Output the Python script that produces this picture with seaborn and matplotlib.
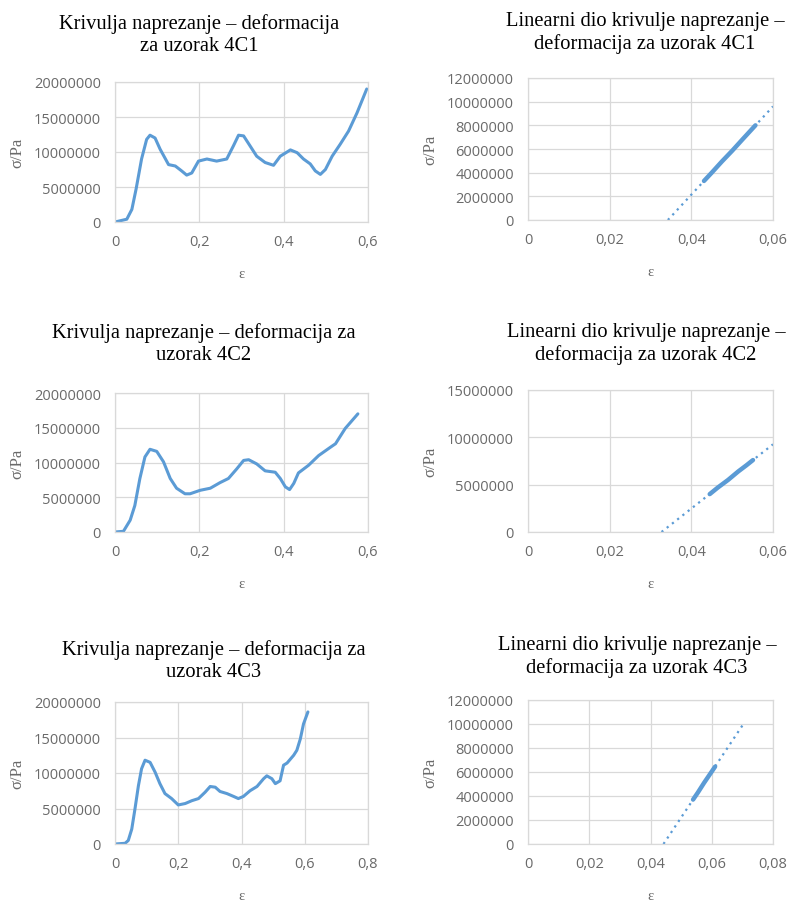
import numpy as np
import pandas as pd
import matplotlib
matplotlib.use("Agg")
import matplotlib.pyplot as plt
import seaborn as sns

# ---------------- data ----------------
eps_4C1 = [0.0, 0.028, 0.040, 0.050, 0.063, 0.075, 0.083, 0.095, 0.107, 0.127, 0.143,
           0.158, 0.170, 0.182, 0.198, 0.218, 0.241, 0.265, 0.281, 0.293, 0.305, 0.320,
           0.336, 0.356, 0.376, 0.392, 0.416, 0.432, 0.447, 0.463, 0.475, 0.487, 0.499,
           0.515, 0.534, 0.554, 0.574, 0.597]
sig_4C1 = [0.0, 0.4e6, 1.8e6, 4.7e6, 9.0e6, 11.8e6, 12.4e6, 12.0e6, 10.4e6, 8.2e6, 8.0e6,
           7.3e6, 6.7e6, 7.0e6, 8.7e6, 9.0e6, 8.7e6, 9.0e6, 10.9e6, 12.4e6, 12.3e6, 10.9e6,
           9.4e6, 8.5e6, 8.1e6, 9.4e6, 10.3e6, 9.9e6, 9.0e6, 8.3e6, 7.3e6, 6.8e6, 7.5e6,
           9.4e6, 11.1e6, 13.0e6, 15.6e6, 19.0e6]

eps_4C2 = [0.0, 0.020, 0.036, 0.047, 0.059, 0.071, 0.083, 0.099, 0.115, 0.131, 0.146,
           0.166, 0.178, 0.202, 0.226, 0.249, 0.269, 0.289, 0.305, 0.317, 0.336, 0.356,
           0.380, 0.392, 0.404, 0.414, 0.424, 0.435, 0.459, 0.483, 0.511, 0.523, 0.546,
           0.576]
sig_4C2 = [0.0, 0.1e6, 1.7e6, 3.8e6, 7.7e6, 10.8e6, 11.9e6, 11.6e6, 10.1e6, 7.7e6, 6.3e6,
           5.5e6, 5.5e6, 6.0e6, 6.3e6, 7.1e6, 7.7e6, 9.1e6, 10.3e6, 10.4e6, 9.8e6, 8.8e6,
           8.6e6, 7.7e6, 6.5e6, 6.1e6, 7.0e6, 8.5e6, 9.6e6, 11.0e6, 12.2e6, 12.7e6, 14.9e6,
           17.0e6]

eps_4C3 = [0.0, 0.032, 0.042, 0.053, 0.063, 0.074, 0.084, 0.095, 0.111, 0.127, 0.142,
           0.158, 0.179, 0.200, 0.222, 0.243, 0.264, 0.285, 0.301, 0.317, 0.332, 0.354,
           0.375, 0.390, 0.406, 0.427, 0.449, 0.470, 0.480, 0.496, 0.507, 0.522, 0.533,
           0.544, 0.565, 0.575, 0.586, 0.596, 0.610]
sig_4C3 = [0.0, 0.1e6, 0.5e6, 2.1e6, 4.9e6, 8.2e6, 10.6e6, 11.8e6, 11.5e6, 10.1e6, 8.5e6,
           7.1e6, 6.4e6, 5.5e6, 5.7e6, 6.1e6, 6.4e6, 7.3e6, 8.1e6, 8.0e6, 7.4e6, 7.1e6,
           6.7e6, 6.4e6, 6.7e6, 7.5e6, 8.1e6, 9.2e6, 9.6e6, 9.2e6, 8.5e6, 8.9e6, 11.1e6,
           11.4e6, 12.5e6, 13.2e6, 14.8e6, 16.9e6, 18.6e6]

lin_eps_4C1 = [0.0431, 0.0450, 0.0475, 0.0500, 0.0525, 0.0545, 0.0557]
lin_sig_4C1 = [3.3e6, 4.0e6, 4.95e6, 5.85e6, 6.8e6, 7.55e6, 8.0e6]
lin_eps_4C2 = [0.0445, 0.0465, 0.0490, 0.0515, 0.0535, 0.0551]
lin_sig_4C2 = [4.0e6, 4.7e6, 5.5e6, 6.4e6, 7.05e6, 7.6e6]
lin_eps_4C3 = [0.0539, 0.0555, 0.0575, 0.0595, 0.0611]
lin_sig_4C3 = [3.7e6, 4.3e6, 5.1e6, 5.85e6, 6.45e6]

titles_left = ["Krivulja naprezanje \u2013 deformacija\nza uzorak 4C1",
               "Krivulja naprezanje \u2013 deformacija za\nuzorak 4C2",
               "Krivulja naprezanje \u2013 deformacija za\nuzorak 4C3"]
titles_right = ["Linearni dio krivulje naprezanje \u2013\ndeformacija za uzorak 4C1",
                "Linearni dio krivulje naprezanje \u2013\ndeformacija za uzorak 4C2",
                "Linearni dio krivulje naprezanje \u2013\ndeformacija za uzorak 4C3"]

xt_left = [[0, 0.2, 0.4, 0.6], [0, 0.2, 0.4, 0.6], [0, 0.2, 0.4, 0.6, 0.8]]
xtl_left = [["0", "0,2", "0,4", "0,6"], ["0", "0,2", "0,4", "0,6"],
            ["0", "0,2", "0,4", "0,6", "0,8"]]
yt_left = [[0, 5000000, 10000000, 15000000, 20000000]] * 3

xt_right = [[0, 0.02, 0.04, 0.06], [0, 0.02, 0.04, 0.06], [0, 0.02, 0.04, 0.06, 0.08]]
xtl_right = [["0", "0,02", "0,04", "0,06"], ["0", "0,02", "0,04", "0,06"],
             ["0", "0,02", "0,04", "0,06", "0,08"]]
yt_right = [[0, 2000000, 4000000, 6000000, 8000000, 10000000, 12000000],
            [0, 5000000, 10000000, 15000000],
            [0, 2000000, 4000000, 6000000, 8000000, 10000000, 12000000]]
trend_end = [0.06, 0.06, 0.0706]

# ---------------- style ----------------
sns.set_style("white")
plt.rcParams["font.family"] = ["Open Sans", "DejaVu Sans"]

BLUE = "#5B9BD5"
GRID = "#D9D9D9"
TICK = "#6A6A6A"
SERIF = ["Liberation Serif", "DejaVu Serif"]

fig = plt.figure(figsize=(8.0, 9.03), dpi=100)
W, H = 800.0, 903.0

def add_ax(l, t, r, b):
    return fig.add_axes([l / W, 1 - b / H, (r - l) / W, (b - t) / H])

left_boxes = [(115, 83, 368, 223), (115, 394, 368, 533), (115, 703, 368, 845)]
right_boxes = [(528, 79, 773, 221), (528, 391, 773, 533), (528, 701, 773, 845)]
left_title_pos = [(199, 35), (204, 344), (214, 661)]
right_title_pos = [(645, 33), (646, 344), (637, 657)]

curves = [(eps_4C1, sig_4C1), (eps_4C2, sig_4C2), (eps_4C3, sig_4C3)]
lins = [(lin_eps_4C1, lin_sig_4C1), (lin_eps_4C2, lin_sig_4C2), (lin_eps_4C3, lin_sig_4C3)]


def style_ax(ax, xt, xtl, yt, box):
    ax.set_xticks(xt)
    ax.set_xticklabels(xtl)
    ax.set_yticks(yt)
    ax.set_yticklabels([str(v) for v in yt])
    ax.set_xlim(xt[0], xt[-1])
    ax.set_ylim(yt[0], yt[-1])
    ax.grid(True, color=GRID, linewidth=0.9)
    ax.set_axisbelow(True)
    for s in ax.spines.values():
        s.set_color(GRID)
        s.set_linewidth(0.9)
    ax.tick_params(axis="both", length=0, labelsize=10.5, colors=TICK)
    ax.tick_params(axis="x", pad=9)
    ax.tick_params(axis="y", pad=10)
    hpx = box[3] - box[1]
    wpx = box[2] - box[0]
    ax.set_xlabel("\u03b5", fontsize=10.5, color=TICK, family=SERIF)
    ax.xaxis.set_label_coords(0.5, -45.0 / hpx)
    ax.set_ylabel("\u03c3/Pa", fontsize=12, color=TICK, family=SERIF)
    ax.yaxis.set_label_coords(-90.0 / wpx, 0.5)


for i in range(3):
    # left: full stress-strain curve
    box = left_boxes[i]
    ax = add_ax(*box)
    df = pd.DataFrame({"eps": curves[i][0], "sigma": curves[i][1]})
    sns.lineplot(data=df, x="eps", y="sigma", ax=ax, color=BLUE, linewidth=2.2,
                 sort=False, estimator=None, solid_joinstyle="round",
                 solid_capstyle="round")
    style_ax(ax, xt_left[i], xtl_left[i], yt_left[i], box)
    fig.text(left_title_pos[i][0] / W, 1 - left_title_pos[i][1] / H, titles_left[i],
             ha="center", va="center", multialignment="center", fontsize=14.8,
             family=SERIF, color="black", linespacing=1.15)

    # right: linear part with trendline
    box = right_boxes[i]
    ax = add_ax(*box)
    le, ls = lins[i]
    slope, icpt = np.polyfit(le, ls, 1)
    x0 = -icpt / slope
    tdf = pd.DataFrame({"eps": [x0, trend_end[i]],
                        "sigma": [slope * x0 + icpt, slope * trend_end[i] + icpt]})
    sns.lineplot(data=tdf, x="eps", y="sigma", ax=ax, color=BLUE, linewidth=1.6,
                 linestyle=(0, (1, 2)), sort=False, estimator=None)
    ldf = pd.DataFrame({"eps": le, "sigma": ls})
    sns.lineplot(data=ldf, x="eps", y="sigma", ax=ax, color=BLUE, linewidth=3.2,
                 sort=False, estimator=None)
    style_ax(ax, xt_right[i], xtl_right[i], yt_right[i], box)
    fig.text(right_title_pos[i][0] / W, 1 - right_title_pos[i][1] / H, titles_right[i],
             ha="center", va="center", multialignment="center", fontsize=14.8,
             family=SERIF, color="black", linespacing=1.15)

fig.savefig("out.png", dpi=100, facecolor="white")
